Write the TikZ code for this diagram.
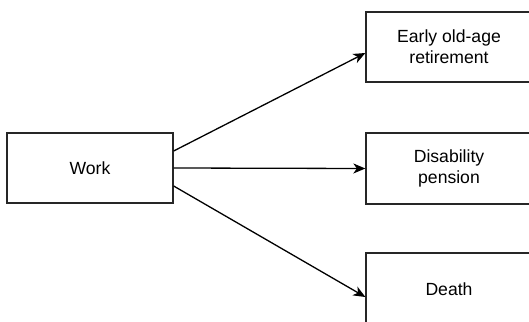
\documentclass[tikz,border=0pt]{standalone}
\usepackage{fontspec}
\setmainfont{Liberation Sans}
\usetikzlibrary{arrows.meta}
\begin{document}
\begin{tikzpicture}[x=1pt,y=1pt,
  box/.style={draw=black!85, line width=1.3pt, fill=white, inner sep=0pt, minimum width=166pt, align=center, font=\fontsize{17.6}{21}\selectfont},
  conn/.style={line width=1.3pt, -{Stealth[length=12pt,width=10pt,inset=3.5pt]}}]
\useasboundingbox (0,0) rectangle (529,-321);
\begin{scope}
\clip (0,0) rectangle (529,-321);
\node[box, minimum height=70pt] (work) at (90,-168) {Work};
\node[box, minimum height=70pt] (early) at (449,-47) {Early old-age\\retirement};
\node[box, minimum height=71pt] (dis) at (449,-168.5) {Disability\\pension};
\node[box, minimum height=73pt] (death) at (449,-289.5) {Death};
\draw[conn] ([yshift=17pt]work.east) -- ([yshift=-6pt]early.west);
\draw[conn] (work.east) -- (dis.west);
\draw[conn] ([yshift=-18pt]work.east) -- ([yshift=-7.5pt]death.west);
\end{scope}
\end{tikzpicture}
\end{document}
